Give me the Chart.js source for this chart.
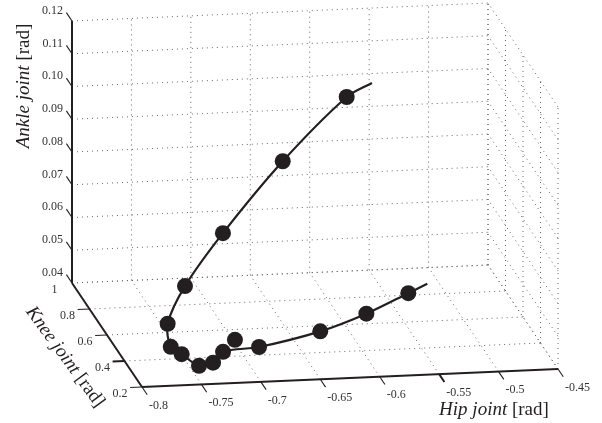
<!DOCTYPE html>
<html lang="en">
<head>
    <meta charset="UTF-8">
    <title>Joint trajectory</title>
    <script src="https://cdn.jsdelivr.net/npm/chart.js"></script>
    <style>
        html, body { margin: 0; padding: 0; background: #fff; }
        canvas { display: block; }
    </style>
</head>
<body>
    <canvas id="jointChart" width="602" height="423"></canvas>

    <script>
        // axis ticks
        const hipTicks = [-0.8, -0.75, -0.7, -0.65, -0.6, -0.55, -0.5, -0.45];
        const kneeTicks = [0.2, 0.4, 0.6, 0.8, 1];
        const ankleTicks = [0.04, 0.05, 0.06, 0.07, 0.08, 0.09, 0.10, 0.11, 0.12];
        const hipLabels = ["-0.8", "-0.75", "-0.7", "-0.65", "-0.6", "-0.55", "-0.5", "-0.45"];
        const kneeLabels = ["0.2", "0.4", "0.6", "0.8", "1"];
        const ankleLabels = ["0.04", "0.05", "0.06", "0.07", "0.08", "0.09", "0.10", "0.11", "0.12"];

        // trajectory curve
        const curveHip = [-0.5653, -0.5895, -0.6492, -0.7054, -0.7432, -0.7637, -0.7652, -0.7578, -0.7432, -0.7314, -0.7212, -0.6868, -0.6294, -0.5865, -0.5465, -0.5276];
        const curveKnee = [0.76, 0.72, 0.64, 0.56, 0.48, 0.40, 0.344, 0.32, 0.32, 0.32, 0.344, 0.40, 0.48, 0.536, 0.60, 0.64];
        const curveAnkle = [0.1069, 0.1046, 0.0891, 0.0712, 0.0588, 0.0508, 0.0460, 0.0446, 0.0408, 0.0416, 0.0438, 0.0425, 0.0432, 0.0457, 0.0488, 0.0498];

        // sampled points on it
        const pointHip = [-0.5895, -0.6492, -0.7054, -0.7432, -0.7637, -0.7652, -0.7578, -0.7432, -0.7314, -0.7212, -0.7112, -0.6868, -0.6294, -0.5865, -0.5465];
        const pointKnee = [0.72, 0.64, 0.56, 0.48, 0.40, 0.344, 0.32, 0.32, 0.32, 0.344, 0.344, 0.40, 0.48, 0.536, 0.60];
        const pointAnkle = [0.1046, 0.0891, 0.0712, 0.0588, 0.0508, 0.0460, 0.0446, 0.0408, 0.0416, 0.0438, 0.0473, 0.0425, 0.0432, 0.0457, 0.0488];

        const serif = '"Liberation Serif", serif';
        const inkColor = "#231f20";

        // fixed 3D view: each axis maps to one screen direction
        function project(hip, knee, ankle) {
            const a = (hip + 0.8) / 0.35;
            const b = (1 - knee) / 0.8;
            const c = (ankle - 0.04) / 0.08;
            return {
                x: 72 + 416 * a + 70 * b,
                y: 283 - 18 * a + 104 * b - 262 * c
            };
        }

        function segment(from, to, style) {
            return Object.assign({
                data: [project(...from), project(...to)],
                showLine: true,
                pointRadius: 0,
                tension: 0
            }, style);
        }

        const hipMin = hipTicks[0], hipMax = hipTicks[hipTicks.length - 1];
        const kneeMin = kneeTicks[0], kneeMax = kneeTicks[kneeTicks.length - 1];
        const ankleMin = ankleTicks[0], ankleMax = ankleTicks[ankleTicks.length - 1];

        const gridStyle = { borderColor: "#666", borderWidth: 1, borderDash: [1, 4], order: 5 };
        const axisStyle = { borderColor: inkColor, borderWidth: 2, order: 4 };
        const tickStyle = { borderColor: inkColor, borderWidth: 1.1, order: 4 };
        const heavyTick = Object.assign({}, tickStyle, { borderWidth: 2 });

        const datasets = [];

        // dotted grid on the two walls and the floor
        hipTicks.forEach(h => {
            datasets.push(segment([h, kneeMax, ankleMin], [h, kneeMax, ankleMax], gridStyle));
            datasets.push(segment([h, kneeMin, ankleMin], [h, kneeMax, ankleMin], gridStyle));
        });
        kneeTicks.forEach(k => {
            datasets.push(segment([hipMax, k, ankleMin], [hipMax, k, ankleMax], gridStyle));
            datasets.push(segment([hipMin, k, ankleMin], [hipMax, k, ankleMin], gridStyle));
        });
        ankleTicks.forEach(t => {
            datasets.push(segment([hipMin, kneeMax, t], [hipMax, kneeMax, t], gridStyle));
            datasets.push(segment([hipMax, kneeMin, t], [hipMax, kneeMax, t], gridStyle));
        });

        // solid axes and tick marks
        datasets.push(segment([hipMin, kneeMax, ankleMin], [hipMin, kneeMax, ankleMax], axisStyle));
        datasets.push(segment([hipMin, kneeMax, ankleMin], [hipMin, kneeMin, ankleMin], axisStyle));
        datasets.push(segment([hipMin, kneeMin, ankleMin], [hipMax, kneeMin, ankleMin], axisStyle));
        hipTicks.forEach(h => datasets.push(segment([h, kneeMin, ankleMin], [h, kneeMin - 0.06, ankleMin], h === -0.55 ? heavyTick : tickStyle)));
        kneeTicks.slice(0, 4).forEach(k => datasets.push(segment([hipMin, k, ankleMin], [hipMin - 0.01, k, ankleMin], k === 0.4 ? heavyTick : tickStyle)));
        ankleTicks.forEach(t => datasets.push(segment([hipMin, kneeMax, t], [hipMin, kneeMax + 0.064, t], tickStyle)));

        // trajectory and its sample points
        datasets.push({
            data: curveHip.map((h, i) => project(h, curveKnee[i], curveAnkle[i])),
            showLine: true,
            pointRadius: 0,
            borderColor: inkColor,
            borderWidth: 2.2,
            tension: 0.3,
            order: 2
        });
        datasets.push({
            data: pointHip.map((h, i) => project(h, pointKnee[i], pointAnkle[i])),
            showLine: false,
            pointRadius: 8,
            pointBackgroundColor: inkColor,
            pointBorderWidth: 0,
            order: 1
        });

        // title made of an italic part and an upright part
        function drawTitle(ctx, cx, cy, angle, italicPart, plainPart) {
            ctx.save();
            ctx.translate(cx, cy);
            ctx.rotate(angle);
            ctx.textBaseline = "alphabetic";
            ctx.textAlign = "left";
            ctx.fillStyle = inkColor;
            ctx.font = "italic 19px " + serif;
            const w1 = ctx.measureText(italicPart + " ").width;
            ctx.font = "19px " + serif;
            const w2 = ctx.measureText(plainPart).width;
            const start = -(w1 + w2) / 2;
            ctx.font = "italic 19px " + serif;
            ctx.fillText(italicPart, start, 0);
            ctx.font = "19px " + serif;
            ctx.fillText(plainPart, start + w1, 0);
            ctx.restore();
        }

        const axisText = {
            id: "axisText",
            afterDraw(chart) {
                const ctx = chart.ctx;
                const sx = chart.scales.x, sy = chart.scales.y;
                const at = (h, k, t) => {
                    const p = project(h, k, t);
                    return { x: sx.getPixelForValue(p.x), y: sy.getPixelForValue(p.y) };
                };
                ctx.save();
                ctx.font = "12px " + serif;
                ctx.fillStyle = "#333";
                ctx.textBaseline = "middle";

                ctx.textAlign = "left";
                hipTicks.forEach((h, i) => {
                    const p = at(h, kneeMin, ankleMin);
                    ctx.fillText(hipLabels[i], p.x + 7, p.y + 18.5);
                });
                ctx.textAlign = "right";
                kneeTicks.forEach((k, i) => {
                    const p = at(hipMin, k, ankleMin);
                    ctx.fillText(kneeLabels[i], p.x - 14.5, p.y + 6.7);
                });
                ankleTicks.forEach((t, i) => {
                    const p = at(hipMin, kneeMax, t);
                    ctx.fillText(ankleLabels[i], p.x - 9, p.y - 10.3);
                });
                ctx.restore();

                drawTitle(ctx, 494, 415, 0, "Hip joint", "[rad]");
                drawTitle(ctx, 29, 86, -Math.PI / 2, "Ankle joint", "[rad]");
                drawTitle(ctx, 61, 360, 53.7 * Math.PI / 180, "Knee joint", "[rad]");
            }
        };

        new Chart(document.getElementById("jointChart"), {
            type: "scatter",
            data: { datasets: datasets },
            options: {
                responsive: false,
                animation: false,
                layout: { padding: 0, autoPadding: false },
                plugins: { legend: { display: false }, tooltip: { enabled: false } },
                scales: {
                    x: { type: "linear", min: 0, max: 602, display: false },
                    y: { type: "linear", min: 0, max: 423, reverse: true, display: false }
                }
            },
            plugins: [axisText]
        });
    </script>
</body>
</html>
